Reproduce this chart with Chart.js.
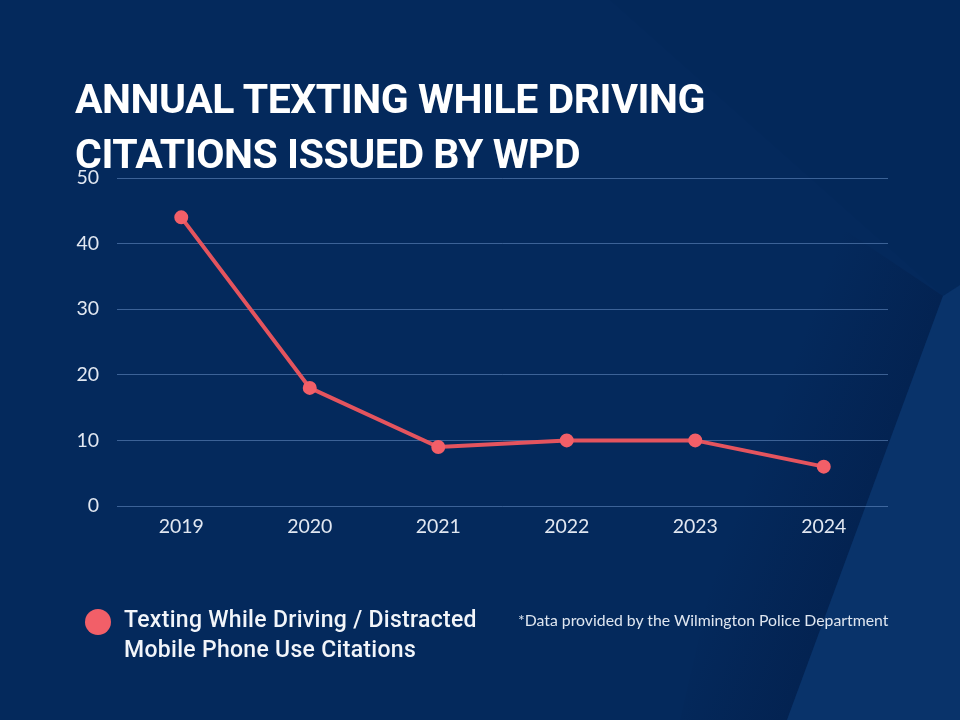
<!DOCTYPE html>
<html>
<head>
<meta charset="utf-8">
<script src="https://cdn.jsdelivr.net/npm/chart.js@4.4.1/dist/chart.umd.min.js"></script>
<style>
  html, body { margin: 0; padding: 0; background: #05295d; }
  #wrap { position: relative; width: 960px; height: 720px; overflow: hidden; }
  #c { position: absolute; left: 0; top: 0; }
  #title {
    position: absolute; left: 75px; top: 72px;
    font-family: Roboto, "Liberation Sans", sans-serif; font-weight: 700;
    font-size: 41px; line-height: 55px; color: #ffffff; letter-spacing: -0.45px;
    white-space: nowrap;
  }
  #legend { position: absolute; left: 85px; top: 605px; display: flex; align-items: flex-start; }
  #legend .dot { width: 26px; height: 26px; border-radius: 50%; margin-top: 4px; margin-right: 13px; }
  #legend .txt {
    width: 375px; font-family: Roboto, sans-serif; font-weight: 500; font-size: 23px;
    line-height: 30px; color: #f2f5fa; letter-spacing: 0.3px;
  }
  #note {
    position: absolute; left: 518px; top: 610px;
    font-family: Lato, sans-serif; font-size: 15.8px; color: #dfe6f0; white-space: nowrap;
  }
</style>
</head>
<body>
<div id="wrap">
  <canvas id="c" width="960" height="720"></canvas>
  <div id="title"></div>
  <div id="legend"></div>
  <div id="note"></div>
</div>
<script>
const titleLines = ["ANNUAL TEXTING WHILE DRIVING", "CITATIONS ISSUED BY WPD"];
const years = ["2019", "2020", "2021", "2022", "2023", "2024"];
const citations = [44, 18, 9, 10, 10, 6];
const seriesLabel = "Texting While Driving / Distracted Mobile Phone Use Citations";
const sourceNote = "*Data provided by the Wilmington Police Department";
const yMin = 0, yMax = 50, yStep = 10;

const lineColor = "#e4545e";
const pointColor = "#f25f68";
const tickColor = "#e1e7f1";
const gridColor = "rgba(115,155,210,0.5)";

document.getElementById("title").innerHTML = titleLines.map(t => "<div>" + t + "</div>").join("");
document.getElementById("note").textContent = sourceNote;

const bgPlugin = {
  id: "bg",
  beforeDraw(chart) {
    const ctx = chart.ctx;
    const W = chart.width, H = chart.height;
    ctx.save();
    ctx.fillStyle = "#04295c";
    ctx.fillRect(0, 0, W, H);
    // soft shadow band along the diagonal edge
    const g = ctx.createLinearGradient(740, 500, 860, 545);
    g.addColorStop(0, "rgba(2,22,60,0)");
    g.addColorStop(1, "rgba(2,22,60,0.35)");
    ctx.fillStyle = g;
    ctx.beginPath();
    ctx.moveTo(800, 200); ctx.lineTo(943, 296); ctx.lineTo(787, 720); ctx.lineTo(680, 720);
    ctx.closePath(); ctx.fill();
    // lighter right panel
    ctx.fillStyle = "#09336a";
    ctx.beginPath();
    ctx.moveTo(943, 296); ctx.lineTo(960, 285); ctx.lineTo(960, 720); ctx.lineTo(787, 720);
    ctx.closePath(); ctx.fill();
    // upper right slightly darker
    ctx.fillStyle = "rgba(3,30,80,0.12)";
    ctx.beginPath();
    ctx.moveTo(610, 0); ctx.lineTo(960, 0); ctx.lineTo(960, 285); ctx.lineTo(943, 296);
    ctx.closePath(); ctx.fill();
    ctx.restore();
  }
};

const chart = new Chart(document.getElementById("c"), {
  type: "line",
  data: {
    labels: years,
    datasets: [{
      label: seriesLabel,
      data: citations,
      borderColor: lineColor,
      backgroundColor: pointColor,
      pointBackgroundColor: pointColor,
      pointBorderColor: pointColor,
      borderWidth: 4,
      pointRadius: 5,
      tension: 0,
      fill: false
    }]
  },
  options: {
    responsive: false,
    animation: false,
    layout: { padding: { top: 178, left: 0, right: 72, bottom: 174 } },
    plugins: { legend: { display: false }, title: { display: false }, tooltip: { enabled: false } },
    scales: {
      x: {
        offset: true,
        grid: { display: false, drawTicks: false },
        border: { display: false },
        ticks: { color: tickColor, padding: 9, font: { family: "Lato", size: 19.5 } },
        afterFit(s) { s.height = 40; }
      },
      y: {
        min: yMin, max: yMax,
        grid: { color: gridColor, lineWidth: 1, drawTicks: false },
        border: { display: false },
        ticks: { stepSize: yStep, color: tickColor, padding: 18, font: { family: "Lato", size: 19.5 } },
        afterFit(s) { s.width = 117; }
      }
    }
  },
  plugins: [bgPlugin]
});

const ds = chart.data.datasets[0];
document.getElementById("legend").innerHTML =
  '<div class="dot" style="background:' + ds.pointBackgroundColor + '"></div><div class="txt">' + ds.label + '</div>';
</script>
</body>
</html>
